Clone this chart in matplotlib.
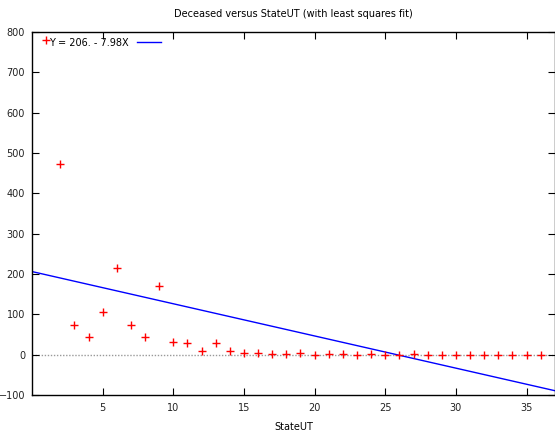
# Deceased versus StateUT with least squares fit line
import matplotlib
matplotlib.use("Agg")
import matplotlib.pyplot as plt
import numpy as np

state_ut = list(range(1, 37))
deceased = [780, 472, 73, 44, 106, 215, 74, 44, 171, 31,
            30, 9, 30, 9, 5, 3, 1, 1, 3, 0,
            1, 2, 0, 1, 0, 0, 1, 0, 0, 0,
            0, 0, 0, 0, 0, 0]
fit_intercept = 206.0
fit_slope = -7.98
x_ticks = [5, 10, 15, 20, 25, 30, 35]
y_ticks = [-100, 0, 100, 200, 300, 400, 500, 600, 700, 800]

plt.rcParams['font.family'] = 'DejaVu Sans'
fig = plt.figure(figsize=(5.55, 4.32), dpi=100)
ax = fig.add_axes([0.0577, 0.0856, 0.942, 0.8405])

ax.axhline(0, color='#999999', ls=(0, (1, 1.2)), lw=1, zorder=1)

ax.plot(state_ut, deceased, '+', color='red', ms=6, mew=1, ls='none', zorder=3)

xs = np.array([0, 37])
ax.plot(xs, fit_intercept + fit_slope * xs, color='blue', lw=1,
        label='Y = 206. - 7.98X', zorder=2)

ax.set_xlim(0, 37)
ax.set_ylim(-100, 800)
ax.set_xticks(x_ticks)
ax.set_yticks(y_ticks)
ax.tick_params(direction='in', top=True, right=True, length=5, labelsize=7,
               colors='black', labelcolor='#222222')
ax.tick_params(axis='y', pad=5)
ax.tick_params(axis='x', pad=6)
for s in ax.spines.values():
    s.set_linewidth(1)

ax.set_title('Deceased versus StateUT (with least squares fit)', fontsize=7, pad=11)
ax.set_xlabel('StateUT', fontsize=7, labelpad=6)

ax.legend(loc='upper left', markerfirst=False, frameon=False, fontsize=7,
          handlelength=2.5, borderaxespad=0.2, handletextpad=0.8,
          bbox_to_anchor=(0.022, 1.0))

plt.savefig("out.png", dpi=100)
plt.close(fig)
